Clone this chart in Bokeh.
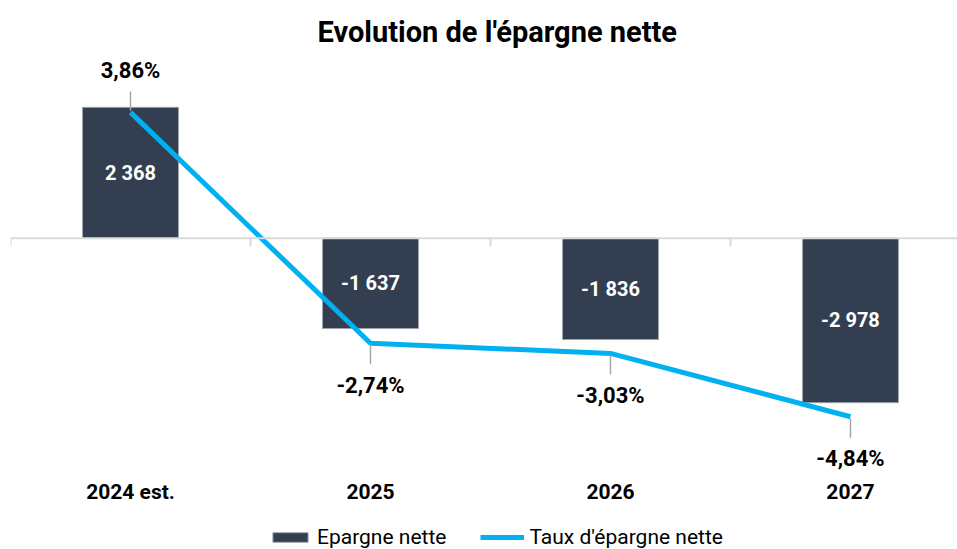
from bokeh.plotting import figure
from bokeh.models import Range1d, Legend, LegendItem, Span
from bokeh.core.properties import value
from bokeh.embed import file_html
from bokeh.resources import INLINE

categories = ["2024 est.", "2025", "2026", "2027"]
epargne_nette = [2368, -1637, -1836, -2978]
taux_epargne = [3.86, -2.74, -3.03, -4.84]
series_names = ["Epargne nette", "Taux d'épargne nette"]

FONT = "Roboto"
BAR_COLOR = "#333f50"
BAR_EDGE = "#a0a6ae"
LINE_COLOR = "#00b0f0"

x = list(range(len(categories)))

Y_MIN, Y_MAX = -5635, 3197
PCT_MIN, PCT_MAX = -8.634, 5.314


def fr_int(v):
    s = f"{abs(v):,}".replace(",", " ")
    return ("-" if v < 0 else "") + s


def fr_pct(v):
    return f"{v:.2f}".replace(".", ",") + "%"


p = figure(width=957, height=549, output_backend="svg", toolbar_location=None,
           x_range=Range1d(-0.5, 3.446), y_range=Range1d(Y_MIN, Y_MAX),
           x_axis_location=None, y_axis_location=None,
           min_border_left=10, min_border_right=0, min_border_top=60, min_border_bottom=0)
p.extra_y_ranges = {"pct": Range1d(PCT_MIN, PCT_MAX)}
p.grid.visible = False
p.outline_line_color = None

p.title.text = "Evolution de l'épargne nette"
p.title.align = "left"
p.title.offset = 307
p.title.standoff = 25
p.title.text_font = FONT
p.title.text_font_size = "29px"
p.title.text_font_style = "bold"
p.title.text_color = "black"

# zero line and category boundary ticks
p.add_layout(Span(location=0, dimension="width", line_color="#d9d9d9", line_width=2))
bounds = [i - 0.5 for i in range(len(categories) + 1)]
p.segment(x0=bounds, y0=[0] * len(bounds), x1=bounds, y1=[-150] * len(bounds),
          line_color="#d9d9d9", line_width=2)

bars = p.vbar(x=x, top=epargne_nette, width=0.4, fill_color=BAR_COLOR,
              line_color=BAR_EDGE, line_width=1)

line = p.line(x=x, y=taux_epargne, y_range_name="pct", line_color=LINE_COLOR, line_width=5)

# bar value labels
p.text(x=x, y=[v / 2 for v in epargne_nette], text=[fr_int(v) for v in epargne_nette],
       text_color="white", text_font=value(FONT), text_font_size="20px", text_font_style="bold",
       text_align="center", text_baseline="middle")

# leader lines and percentage labels
sign = [1 if v >= 0 else -1 for v in taux_epargne]
p.segment(x0=x, y0=[v + s * 0.05 for v, s in zip(taux_epargne, sign)],
          x1=x, y1=[v + s * 0.6 for v, s in zip(taux_epargne, sign)],
          y_range_name="pct", line_color="#a6a6a6", line_width=1.5)
p.text(x=x, y=taux_epargne, text=[fr_pct(v) for v in taux_epargne],
       y_offset=[-42 * s for s in sign], y_range_name="pct",
       text_color="black", text_font=value(FONT), text_font_size="22px", text_font_style="bold",
       text_align="center", text_baseline="middle")

# category labels (row under the chart)
p.text(x=x, y=[Y_MIN] * len(x), y_offset=-58, text=categories,
       text_color="black", text_font=value(FONT), text_font_size="21px", text_font_style="bold",
       text_align="center", text_baseline="middle")

legend = Legend(items=[LegendItem(label=series_names[0], renderers=[bars]),
                       LegendItem(label=series_names[1], renderers=[line])],
                orientation="horizontal", location=(258, 0),
                label_text_font=FONT, label_text_font_size="21px", label_text_color="black",
                glyph_width=44, glyph_height=12, label_height=12, label_standoff=5, spacing=34,
                padding=0, margin=0, border_line_color=None, background_fill_alpha=0)
p.add_layout(legend)

open("out.html", "w").write(file_html(p, INLINE))
